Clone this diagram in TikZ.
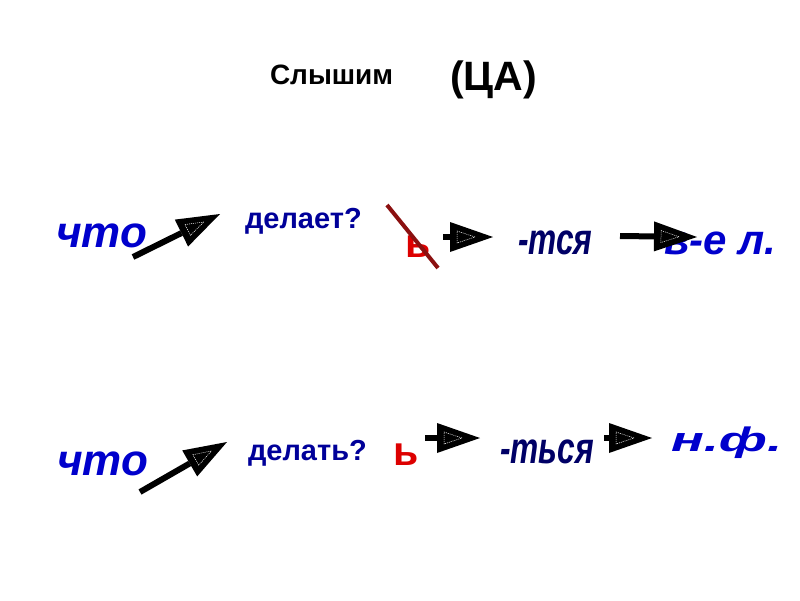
\documentclass[tikz,border=0pt]{standalone}
\usepackage{fontspec}
\usepackage{graphicx}
\setmainfont{Liberation Sans}
\usetikzlibrary{calc}
\definecolor{cblue}{HTML}{0000CC}
\definecolor{cnavy}{HTML}{000099}
\definecolor{cdark}{HTML}{000066}
\definecolor{cred}{HTML}{DD0000}
\definecolor{cmaroon}{HTML}{8B1010}
\tikzset{
  lbl/.style={anchor=base west, inner sep=0pt, outer sep=0pt},
  titlesmall/.style={lbl, font=\fontsize{28}{30}\selectfont\bfseries, text=black},
  titlebig/.style={lbl, font=\fontsize{41}{44}\selectfont\bfseries, text=black},
  wordblue/.style={lbl, font=\fontsize{44}{50}\selectfont\bfseries\itshape, text=cblue},
  worddark/.style={lbl, font=\fontsize{44}{50}\selectfont\bfseries\itshape, text=cdark},
  question/.style={lbl, font=\fontsize{29}{34}\selectfont\bfseries, text=cnavy},
  softsign/.style={lbl, font=\fontsize{41}{44}\selectfont\bfseries, text=cred},
  shaft/.style={line width=6pt, black},
  innertri/.style={white, line width=0.5pt, dash pattern=on 1pt off 1pt},
  strike/.style={line width=4pt, cmaroon}
}
\newcommand\fatarrow[2]{%
  \coordinate (hb) at ($(#2)!43pt!(#1)$);
  \draw[shaft] (#1) -- (hb);
  \fill[black] (#2) -- ($(hb)!15pt!90:(#2)$) -- ($(hb)!15pt!-90:(#2)$) -- cycle;
  \coordinate (ib) at ($(#2)!36pt!(#1)$);
  \coordinate (it) at ($(#2)!18pt!(#1)$);
  \draw[innertri] (it) -- ($(ib)!6pt!90:(#2)$) -- ($(ib)!6pt!-90:(#2)$) -- cycle;
}
\begin{document}
\begin{tikzpicture}[x=1pt,y=-1pt]
\useasboundingbox (0,0) rectangle (800,600);
% title
\node[titlesmall] (t1) at (270,84) {Слышим};
\node[titlebig] (t2) at (450,90) {(ЦА)};
% row 1
\node[wordblue] (chto1) at (56,247) {что};
\node[question] (q1) at (245,228) {делает?};
\node[softsign] (soft1) at (405,257) {ь};
\node[worddark] (tsya) at (518,254) {\scalebox{0.72}[1]{-тся}};
\node[wordblue, font=\fontsize{42}{48}\selectfont\bfseries\itshape] (vel) at (664,254) {в-е л.};
% row 2
\node[wordblue] (chto2) at (57,475) {что};
\node[question] (q2) at (248,460) {делать?};
\node[softsign] (soft2) at (393,465) {ь};
\node[worddark] (tsya2) at (500,463) {\scalebox{0.72}[1]{-ться}};
\node[wordblue, font=\fontsize{34}{40}\selectfont\bfseries\itshape] (nf) at (671,451) {\scalebox{1.6}[1]{н.ф.}};
% strike
\coordinate (s1) at (387,205);
\coordinate (s2) at (438,268);
\draw[strike] (s1) -- (s2);
% arrow coordinates
\coordinate (a1s) at (133,257); \coordinate (a1e) at (220,214);
\coordinate (a2s) at (443,237); \coordinate (a2e) at (493,237);
\coordinate (a3s) at (620,236); \coordinate (a3e) at (697,237);
\coordinate (a4s) at (140,492); \coordinate (a4e) at (227,442);
\coordinate (a5s) at (425,438); \coordinate (a5e) at (480,438);
\coordinate (a6s) at (604,438); \coordinate (a6e) at (652,438);
\fatarrow{a1s}{a1e}
\fatarrow{a2s}{a2e}
\fatarrow{a3s}{a3e}
\fatarrow{a4s}{a4e}
\fatarrow{a5s}{a5e}
\fatarrow{a6s}{a6e}
\end{tikzpicture}
\end{document}
